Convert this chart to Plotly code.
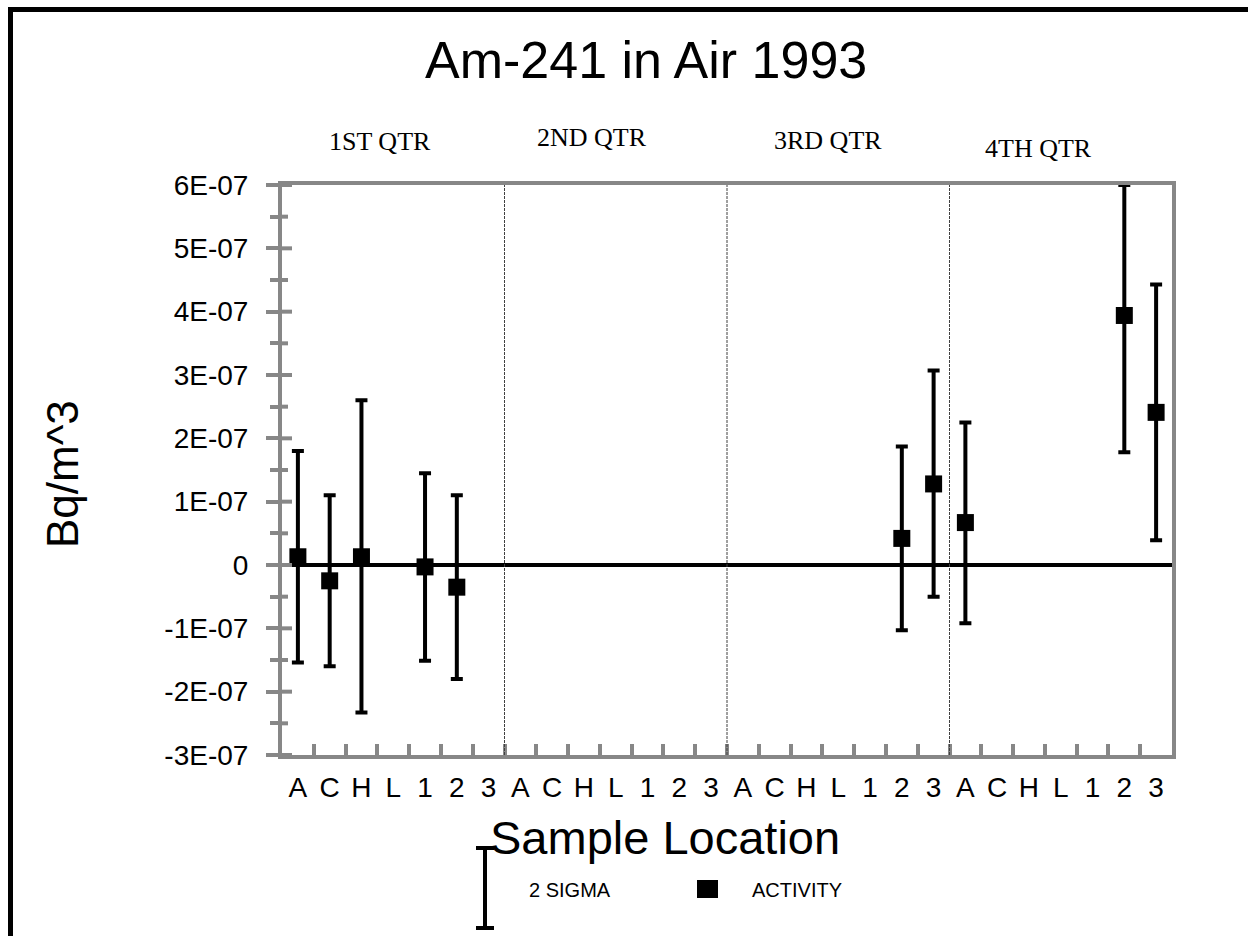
import plotly.graph_objects as go

# ---------------- data ----------------
quarters = ["1ST QTR", "2ND QTR", "3RD QTR", "4TH QTR"]
locations = ["A", "C", "H", "L", "1", "2", "3"]

# activity (Bq/m^3) per quarter, per location (None = no result)
activity_q1 = [1.3e-8, -2.5e-8, 1.3e-8, None, -3e-9, -3.5e-8, None]
activity_q2 = [None, None, None, None, None, None, None]
activity_q3 = [None, None, None, None, None, 4.2e-8, 1.28e-7]
activity_q4 = [6.7e-8, None, None, None, None, 3.94e-7, 2.41e-7]

# upper / lower 2-sigma limits
upper_q1 = [1.8e-7, 1.1e-7, 2.6e-7, None, 1.45e-7, 1.1e-7, None]
upper_q2 = [None, None, None, None, None, None, None]
upper_q3 = [None, None, None, None, None, 1.87e-7, 3.07e-7]
upper_q4 = [2.25e-7, None, None, None, None, 6.0e-7, 4.43e-7]

lower_q1 = [-1.54e-7, -1.6e-7, -2.33e-7, None, -1.51e-7, -1.8e-7, None]
lower_q2 = [None, None, None, None, None, None, None]
lower_q3 = [None, None, None, None, None, -1.03e-7, -5.0e-8]
lower_q4 = [-9.2e-8, None, None, None, None, 1.78e-7, 3.9e-8]

ytick_vals = [-3e-7, -2e-7, -1e-7, 0, 1e-7, 2e-7, 3e-7, 4e-7, 5e-7, 6e-7]
ytick_text = ["-3E-07", "-2E-07", "-1E-07", "0", "1E-07", "2E-07",
              "3E-07", "4E-07", "5E-07", "6E-07"]

title_text = "Am-241 in Air 1993"
x_title = "Sample Location"
y_title = "Bq/m^3"
legend_err = "2 SIGMA"
legend_act = "ACTIVITY"

# ---------------- assemble ----------------
activity = activity_q1 + activity_q2 + activity_q3 + activity_q4
upper = upper_q1 + upper_q2 + upper_q3 + upper_q4
lower = lower_q1 + lower_q2 + lower_q3 + lower_q4
n_cat = len(activity)
n_loc = len(locations)
xlabels = locations * len(quarters)

xs, ys, eplus, eminus = [], [], [], []
for i, (a, u, l) in enumerate(zip(activity, upper, lower)):
    if a is None:
        continue
    xs.append(i)
    ys.append(a)
    eplus.append(u - a)
    eminus.append(a - l)

W, H = 1248, 936
ML, MR, MT, MB = 282, 76, 185, 181
PW, PH = W - ML - MR, H - MT - MB


def px(x):
    return (x - ML) / PW


def py(y):
    return 1 - (y - MT) / PH


GRAY = "#878787"
SANS = "Liberation Sans, Arial, sans-serif"
SERIF = "Liberation Serif, Times New Roman, serif"

fig = go.Figure()
fig.add_trace(go.Scatter(
    x=xs, y=ys, mode="markers",
    marker=dict(symbol="square", size=17, color="black"),
    error_y=dict(type="data", symmetric=False, array=eplus, arrayminus=eminus,
                 color="black", thickness=4, width=6),
    showlegend=False, hoverinfo="x+y",
))

half_step = (ytick_vals[1] - ytick_vals[0]) / 2

shapes = []
# inner halves of the y-axis tick marks (ticks cross the axis line)
for v in ytick_vals:
    shapes.append(dict(type="line", xref="paper", yref="y", x0=0, x1=px(ML + 10), y0=v, y1=v,
                       line=dict(color=GRAY, width=4), layer="above"))
    if v + half_step < ytick_vals[-1]:
        shapes.append(dict(type="line", xref="paper", yref="y", x0=0, x1=px(ML + 6),
                           y0=v + half_step, y1=v + half_step,
                           line=dict(color=GRAY, width=4), layer="above"))
# quarter dividers
for q in range(1, len(quarters)):
    xb = q * n_loc - 0.5
    shapes.append(dict(type="line", xref="x", yref="paper", x0=xb, x1=xb, y0=0, y1=1,
                       line=dict(color="#404040", width=1, dash="3px,1px"), layer="above"))
# outer frame
shapes.append(dict(type="line", xref="paper", yref="paper",
                   x0=px(10.5), x1=px(10.5), y0=py(7), y1=py(940),
                   line=dict(color="black", width=5)))
shapes.append(dict(type="line", xref="paper", yref="paper",
                   x0=px(8), x1=px(1250), y0=py(9.5), y1=py(9.5),
                   line=dict(color="black", width=5)))
# legend: error-bar glyph
shapes.append(dict(type="line", xref="paper", yref="paper",
                   x0=px(485), x1=px(485), y0=py(848), y1=py(928),
                   line=dict(color="black", width=4)))
for yy in (848, 928):
    shapes.append(dict(type="line", xref="paper", yref="paper",
                       x0=px(476), x1=px(494), y0=py(yy), y1=py(yy),
                       line=dict(color="black", width=4)))
# legend: activity square
shapes.append(dict(type="rect", xref="paper", yref="paper",
                   x0=px(697), x1=px(718), y0=py(898), y1=py(880),
                   fillcolor="black", line=dict(width=0)))

annotations = [
    dict(text=title_text, x=px(646), y=py(60), xref="paper", yref="paper",
         showarrow=False, font=dict(family=SANS, size=52, color="black"),
         xanchor="center", yanchor="middle"),
    dict(text=x_title, x=px(665), y=py(837), xref="paper", yref="paper",
         showarrow=False, font=dict(family=SANS, size=47, color="black"),
         xanchor="center", yanchor="middle"),
    dict(text=y_title, x=px(62), y=py(474), xref="paper", yref="paper",
         showarrow=False, textangle=-90, font=dict(family=SANS, size=44, color="black"),
         xanchor="center", yanchor="middle"),
    dict(text=legend_err, x=px(527), y=py(890), xref="paper", yref="paper",
         showarrow=False, font=dict(family=SANS, size=20, color="black"),
         xanchor="left", yanchor="middle"),
    dict(text=legend_act, x=px(750), y=py(890), xref="paper", yref="paper",
         showarrow=False, font=dict(family=SANS, size=20, color="black"),
         xanchor="left", yanchor="middle"),
]
q_label_pos = [(380, 141), (592, 138), (828, 140), (1038, 148)]
for qname, (qx, qy) in zip(quarters, q_label_pos):
    annotations.append(dict(text=qname, x=px(qx), y=py(qy), xref="paper", yref="paper",
                            showarrow=False, font=dict(family=SERIF, size=26, color="black"),
                            xanchor="center", yanchor="middle"))

fig.update_layout(
    width=W, height=H,
    margin=dict(l=ML, r=MR, t=MT, b=MB, pad=0),
    paper_bgcolor="white", plot_bgcolor="white",
    showlegend=False,
    shapes=shapes, annotations=annotations,
    xaxis=dict(
        range=[-0.5, n_cat - 0.5],
        tickmode="array", tickvals=list(range(n_cat)), ticktext=xlabels,
        ticks="", showgrid=False, zeroline=False,
        showline=True, mirror=True, linecolor=GRAY, linewidth=4,
        tickfont=dict(family=SANS, size=28, color="black"),
        ticklabelstandoff=4,
        minor=dict(tickmode="array", tickvals=[i + 0.5 for i in range(n_cat - 1)],
                   ticks="inside", ticklen=11, tickwidth=4, tickcolor=GRAY, showgrid=False),
    ),
    yaxis=dict(
        range=[ytick_vals[0], ytick_vals[-1]],
        tickmode="array", tickvals=ytick_vals, ticktext=ytick_text,
        ticks="outside", ticklen=12, tickwidth=4, tickcolor=GRAY,
        showgrid=False,
        zeroline=True, zerolinecolor="black", zerolinewidth=4,
        showline=True, mirror=True, linecolor=GRAY, linewidth=4,
        tickfont=dict(family=SANS, size=28, color="black"),
        ticklabelstandoff=12,
        minor=dict(dtick=half_step, tick0=0,
                   ticks="outside", ticklen=8, tickwidth=4, tickcolor=GRAY, showgrid=False),
    ),
)

fig.write_html(
    "out.html",
    config={"displayModeBar": False},
    post_script="document.documentElement.style.margin='0';"
                "document.body.style.margin='0';document.body.style.overflow='hidden';",
)
